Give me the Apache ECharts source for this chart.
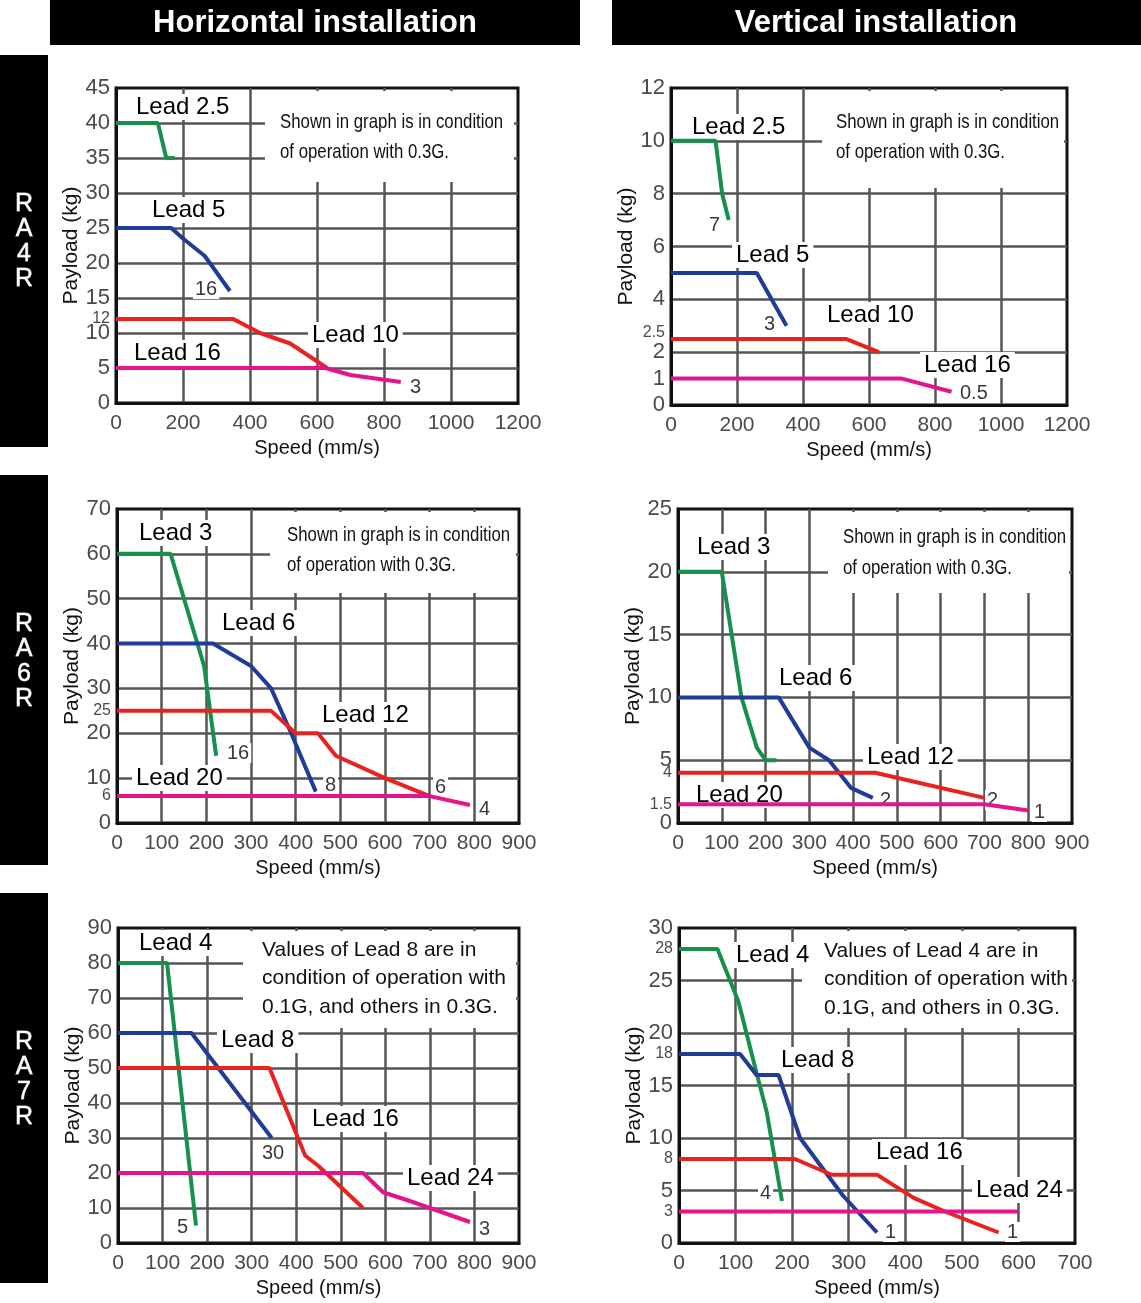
<!DOCTYPE html>
<html><head><meta charset="utf-8">
<script src="https://cdn.jsdelivr.net/npm/echarts@6/dist/echarts.min.js"></script>
<style>html,body{margin:0;padding:0;background:#fff}#c{width:1141px;height:1303px}</style>
</head><body><div id="c"></div>
<script>
// ---------------- DATA ----------------
const columnTitles = ['Horizontal installation', 'Vertical installation'];
const rowTitles = ['RA4R', 'RA6R', 'RA7R'];
const xAxisTitle = 'Speed (mm/s)';
const yAxisTitle = 'Payload (kg)';

// RA4R horizontal
const ra4rH_xLabels = [0, 200, 400, 600, 800, 1000, 1200];
const ra4rH_yLabels = [0, 5, 10, 12, 15, 20, 25, 30, 35, 40, 45];
const ra4rH_lead2_5 = [[0, 40], [125, 40], [150, 35], [175, 35]];
const ra4rH_lead5 = [[0, 25], [165, 25], [200, 23.5], [265, 21], [295, 19], [340, 16]];
const ra4rH_lead10 = [[0, 12], [350, 12], [430, 10], [520, 8.5], [630, 5]];
const ra4rH_lead16 = [[0, 5], [625, 5], [700, 4], [850, 3]];

// RA4R vertical
const ra4rV_xLabels = [0, 200, 400, 600, 800, 1000, 1200];
const ra4rV_yLabels = [0, 1, 2, 2.5, 4, 6, 8, 10, 12];
const ra4rV_lead2_5 = [[0, 10], [135, 10], [155, 8], [175, 7]];
const ra4rV_lead5 = [[0, 5], [260, 5], [350, 3]];
const ra4rV_lead10 = [[0, 2.5], [530, 2.5], [630, 2]];
const ra4rV_lead16 = [[0, 1], [700, 1], [850, 0.5]];

// RA6R horizontal
const ra6rH_xLabels = [0, 100, 200, 300, 400, 500, 600, 700, 800, 900];
const ra6rH_yLabels = [0, 6, 10, 20, 25, 30, 40, 50, 60, 70];
const ra6rH_lead3 = [[0, 60], [120, 60], [195, 35], [222, 15]];
const ra6rH_lead6 = [[0, 40], [215, 40], [300, 35], [345, 30], [390, 20], [445, 7]];
const ra6rH_lead12 = [[0, 25], [345, 25], [400, 20], [450, 20], [490, 15], [600, 10], [700, 6]];
const ra6rH_lead20 = [[0, 6], [700, 6], [790, 4]];

// RA6R vertical
const ra6rV_xLabels = [0, 100, 200, 300, 400, 500, 600, 700, 800, 900];
const ra6rV_yLabels = [0, 1.5, 4, 5, 10, 15, 20, 25];
const ra6rV_lead3 = [[0, 20], [100, 20], [145, 10], [180, 6], [200, 5], [225, 5]];
const ra6rV_lead6 = [[0, 10], [230, 10], [300, 6], [345, 5], [395, 2.8], [445, 2]];
const ra6rV_lead12 = [[0, 4], [450, 4], [500, 3.6], [700, 2]];
const ra6rV_lead20 = [[0, 1.5], [700, 1.5], [800, 1]];

// RA7R horizontal
const ra7rH_xLabels = [0, 100, 200, 300, 400, 500, 600, 700, 800, 900];
const ra7rH_yLabels = [0, 10, 20, 30, 40, 50, 60, 70, 80, 90];
const ra7rH_lead4 = [[0, 80], [110, 80], [175, 5]];
const ra7rH_lead8 = [[0, 60], [165, 60], [345, 30]];
const ra7rH_lead16 = [[0, 50], [340, 50], [420, 25], [450, 22], [550, 10]];
const ra7rH_lead24 = [[0, 20], [550, 20], [595, 14.5], [655, 12], [790, 6]];

// RA7R vertical
const ra7rV_xLabels = [0, 100, 200, 300, 400, 500, 600, 700];
const ra7rV_yLabels = [0, 3, 5, 8, 10, 15, 18, 20, 25, 28, 30];
const ra7rV_lead4 = [[0, 28], [68, 28], [105, 23], [138, 16], [155, 12.5], [182, 4]];
const ra7rV_lead8 = [[0, 18], [108, 18], [137, 16], [176, 16], [214, 10], [290, 4.5], [350, 1]];
const ra7rV_lead16 = [[0, 8], [205, 8], [270, 6.5], [350, 6.5], [415, 4.3], [470, 3], [565, 1]];
const ra7rV_lead24 = [[0, 3], [600, 3]];

// ---------------- LAYOUT / STYLE ----------------
const SANS = '"Liberation Sans", Arial, sans-serif';
const C = { green: '#16904b', blue: '#1f3c98', red: '#e8231f', pink: '#e4148b' };

const panels = [
  { grid: [116, 88, 402, 315], x: ra4rH_xLabels, y: ra4rH_yLabels, yInt: 5, small: [12], up: [],
    series: [[ra4rH_lead2_5, C.green], [ra4rH_lead5, C.blue], [ra4rH_lead10, C.red], [ra4rH_lead16, C.pink]] },
  { grid: [671, 88, 396, 317], x: ra4rV_xLabels, y: ra4rV_yLabels, yInt: 2, small: [2.5], up: [2.5],
    series: [[ra4rV_lead2_5, C.green], [ra4rV_lead5, C.blue], [ra4rV_lead10, C.red], [ra4rV_lead16, C.pink]] },
  { grid: [117, 509, 402, 314], x: ra6rH_xLabels, y: ra6rH_yLabels, yInt: 10, small: [6, 25], up: [],
    series: [[ra6rH_lead3, C.green], [ra6rH_lead6, C.blue], [ra6rH_lead12, C.red], [ra6rH_lead20, C.pink]] },
  { grid: [678, 509, 394, 314], x: ra6rV_xLabels, y: ra6rV_yLabels, yInt: 5, small: [1.5, 4], up: [],
    series: [[ra6rV_lead3, C.green], [ra6rV_lead6, C.blue], [ra6rV_lead12, C.red], [ra6rV_lead20, C.pink]] },
  { grid: [118, 928, 401, 315], x: ra7rH_xLabels, y: ra7rH_yLabels, yInt: 10, small: [], up: [],
    series: [[ra7rH_lead4, C.green], [ra7rH_lead8, C.blue], [ra7rH_lead16, C.red], [ra7rH_lead24, C.pink]] },
  { grid: [679, 928, 396, 315], x: ra7rV_xLabels, y: ra7rV_yLabels, yInt: 5, small: [28, 18, 8, 3], up: [],
    series: [[ra7rV_lead4, C.green], [ra7rV_lead8, C.blue], [ra7rV_lead16, C.red], [ra7rV_lead24, C.pink]] }
];

// Text annotations (label, left x, center y, kind)
const annotations = [
  ['Lead 2.5', 132, 107, 'L'], ['Lead 5', 148, 210, 'L'], ['Lead 10', 308, 335, 'L'], ['Lead 16', 130, 353, 'L'],
  ['16', 193, 289, 'n'], ['3', 408, 387, 'n'],
  ['Lead 2.5', 688, 127, 'L'], ['7', 707, 225, 'n'], ['Lead 5', 732, 255, 'L'], ['3', 762, 324, 'n'],
  ['Lead 10', 823, 315, 'L'], ['Lead 16', 920, 365, 'L'], ['0.5', 958, 393, 'n'],
  ['Lead 3', 135, 533, 'L'], ['Lead 6', 218, 623, 'L'], ['Lead 12', 318, 715, 'L'], ['Lead 20', 132, 778, 'L'],
  ['16', 225, 753, 'n'], ['8', 323, 785, 'n'], ['6', 433, 787, 'n'], ['4', 477, 809, 'n'],
  ['Lead 3', 693, 547, 'L'], ['Lead 6', 775, 678, 'L'], ['Lead 12', 863, 757, 'L'], ['Lead 20', 692, 795, 'L'],
  ['2', 878, 800, 'n'], ['2', 985, 800, 'n'], ['1', 1032, 812, 'n'],
  ['Lead 4', 135, 943, 'L'], ['Lead 8', 217, 1040, 'L'], ['Lead 16', 308, 1119, 'L'], ['Lead 24', 403, 1178, 'L'],
  ['5', 175, 1227, 'n'], ['30', 260, 1153, 'n'], ['3', 477, 1229, 'n'],
  ['Lead 4', 732, 955, 'L'], ['Lead 8', 777, 1060, 'L'], ['Lead 16', 872, 1152, 'L'], ['Lead 24', 972, 1190, 'L'],
  ['4', 758, 1193, 'n'], ['1', 883, 1232, 'n'], ['1', 1005, 1232, 'n']
];

const note03 = ['Shown in graph is in condition', 'of operation with 0.3G.'];
const note7H = ['Values of Lead 8 are in', 'condition of operation with', '0.1G, and others in 0.3G.'];
const note7V = ['Values of Lead 4 are in', 'condition of operation with', '0.1G, and others in 0.3G.'];
// box [x0,y0,x1,y1], text x, first line y, line step, narrow?
const notes = [
  [note03, [265, 91, 514, 182], 280, 122, 30, true],
  [note03, [822, 91, 1064, 188], 836, 122, 30, true],
  [note03, [270, 512, 516, 593], 287, 535, 30, true],
  [note03, [828, 512, 1069, 593], 843, 537, 31, true],
  [note7H, [243, 931, 516, 1028], 262, 950, 28.5, false],
  [note7V, [802, 931, 1072, 1028], 824, 951, 28.5, false]
];

// ---------------- BUILD ----------------
const grids = [], xAxes = [], yAxes = [], series = [], graphics = [];

panels.forEach((p, i) => {
  grids.push({ left: p.grid[0], top: p.grid[1], width: p.grid[2], height: p.grid[3],
    show: true, backgroundColor: '#fff', borderColor: '#111', borderWidth: 3 });
  const splitLine = { show: true, showMinLine: false, showMaxLine: false, lineStyle: { color: '#555', width: 2.5 } };
  xAxes.push({
    type: 'value', gridIndex: i, min: p.x[0], max: p.x[p.x.length - 1], interval: p.x[1] - p.x[0],
    axisLine: { show: true, onZero: false, lineStyle: { color: '#111', width: 3 } },
    axisTick: { show: false },
    axisLabel: { color: '#4a4a4a', fontFamily: SANS, fontSize: 21, margin: 10, showMinLabel: true, showMaxLabel: true,
      formatter: v => String(v) },
    splitLine: splitLine,
    name: xAxisTitle, nameLocation: 'middle', nameGap: 35,
    nameTextStyle: { color: '#111', fontSize: 20, fontFamily: SANS }
  });
  const small = p.small, up = p.up;
  yAxes.push({
    type: 'value', gridIndex: i, min: 0, max: p.y[p.y.length - 1], interval: p.yInt,
    axisLine: { show: true, onZero: false, lineStyle: { color: '#111', width: 3 } },
    axisTick: { show: false },
    axisLabel: {
      customValues: p.y, color: '#4a4a4a', fontFamily: SANS, fontSize: 22, margin: 6,
      formatter: v => up.indexOf(v) >= 0 ? '{u|' + v + '}' : (small.indexOf(v) >= 0 ? '{s|' + v + '}' : String(v)),
      rich: {
        s: { fontSize: 16, fontFamily: SANS, color: '#4a4a4a' },
        u: { fontSize: 16, fontFamily: SANS, color: '#4a4a4a', padding: [0, 0, 12, 0] }
      }
    },
    splitLine: splitLine,
    name: yAxisTitle, nameLocation: 'middle', nameGap: 32,
    nameTextStyle: { color: '#111', fontSize: 21, fontFamily: SANS }
  });
  p.series.forEach(([data, color]) => {
    series.push({ type: 'line', xAxisIndex: i, yAxisIndex: i, data: data, symbol: 'none',
      lineStyle: { color: color, width: 4 }, itemStyle: { color: color }, z: 10, silent: true, animation: false });
  });
});

// column header bars
graphics.push({ type: 'rect', shape: { x: 50, y: 0, width: 530, height: 45 }, style: { fill: '#000' }, z: 1 });
graphics.push({ type: 'rect', shape: { x: 612, y: 0, width: 529, height: 45 }, style: { fill: '#000' }, z: 1 });
graphics.push({ type: 'text', x: 315, y: 23, z: 2, style: { text: columnTitles[0], fill: '#fff', font: 'bold 31px ' + SANS, textAlign: 'center', textVerticalAlign: 'middle' } });
graphics.push({ type: 'text', x: 876, y: 23, z: 2, style: { text: columnTitles[1], fill: '#fff', font: 'bold 31px ' + SANS, textAlign: 'center', textVerticalAlign: 'middle' } });

// row bars
const rowBars = [[55, 392], [475, 390], [893, 390]];
rowBars.forEach(([y0, h], i) => {
  graphics.push({ type: 'rect', shape: { x: 0, y: y0, width: 48, height: h }, style: { fill: '#000' }, z: 1 });
  graphics.push({ type: 'text', x: 24, y: y0 + 187, z: 2, style: {
    text: rowTitles[i].split('').join('\n'), fill: '#fff', stroke: '#bbb', lineWidth: 0.8,
    font: '25px ' + SANS, lineHeight: 25, textAlign: 'center', textVerticalAlign: 'middle' } });
});

// note boxes
notes.forEach(([lines, box, tx, ty, step, narrow]) => {
  graphics.push({ type: 'rect', shape: { x: box[0], y: box[1], width: box[2] - box[0], height: box[3] - box[1] }, style: { fill: '#fff' }, z: 5 });
  lines.forEach((t, k) => {
    graphics.push({ type: 'text', x: tx, y: ty + k * step, z: 6, scaleX: narrow ? 0.8 : 1, style: {
      text: t, fill: '#111', font: '21px ' + SANS, textAlign: 'left', textVerticalAlign: 'middle' } });
  });
});

// lead / value labels
annotations.forEach(([t, x, y, kind]) => {
  const isLead = kind === 'L';
  graphics.push({ type: 'text', x: x, y: y, z: 6, style: {
    text: t, fill: isLead ? '#000' : '#3a3a3a', font: isLead ? '24px ' + SANS : '20px ' + SANS,
    textAlign: 'left', textVerticalAlign: 'middle', backgroundColor: '#fff', padding: isLead ? [1, 4] : [0, 2] } });
});

const chart = echarts.init(document.getElementById('c'), null, { renderer: 'canvas' });
chart.setOption({
  animation: false,
  backgroundColor: '#fff',
  grid: grids, xAxis: xAxes, yAxis: yAxes, series: series,
  graphic: { elements: graphics }
});
</script></body></html>
